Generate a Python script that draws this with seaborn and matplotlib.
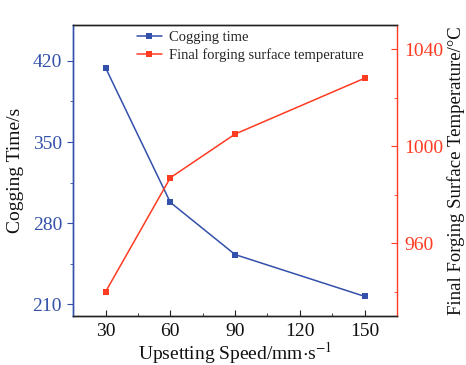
import numpy as np
import pandas as pd
import matplotlib
matplotlib.use('Agg')
import matplotlib.pyplot as plt
import seaborn as sns
from matplotlib.ticker import MultipleLocator

# данные
speed = [30, 60, 90, 150]
cogging_time = [414, 298, 253, 217]
surface_temp = [940, 987, 1005, 1028]

BLUE = '#3350AA'
RED = '#FF3B22'

sns.set_style('ticks')
plt.rcParams['font.family'] = ['Liberation Serif', 'DejaVu Serif']
plt.rcParams['mathtext.fontset'] = 'stix'

df = pd.DataFrame({'speed': speed, 'time': cogging_time, 'temp': surface_temp})

fig = plt.figure(figsize=(4.66, 3.65), dpi=100)
ax = fig.add_axes([0.157, 0.134, 0.695, 0.798])
ax2 = ax.twinx()

sns.lineplot(data=df, x='speed', y='time', ax=ax, color=BLUE, marker='s',
             markersize=5, markeredgewidth=0, linewidth=1.1, label='Cogging time',
             legend=False)
sns.lineplot(data=df, x='speed', y='temp', ax=ax2, color=RED, marker='s',
             markersize=5, markeredgewidth=0, linewidth=1.1,
             label='Final forging surface temperature', legend=False)

ax.set_xlim(15, 165)
ax.set_ylim(200, 451)
ax2.set_ylim(930, 1050)

ax.xaxis.set_major_locator(MultipleLocator(30))
ax.xaxis.set_minor_locator(MultipleLocator(15))
ax.yaxis.set_major_locator(MultipleLocator(70))
ax.yaxis.set_minor_locator(MultipleLocator(35))
ax2.yaxis.set_major_locator(MultipleLocator(40))
ax2.yaxis.set_minor_locator(MultipleLocator(20))

# спайны
ax.spines['left'].set_color(BLUE)
ax2.spines['left'].set_color(BLUE)
ax2.spines['right'].set_color(RED)
ax.spines['right'].set_visible(False)
for a in (ax, ax2):
    a.spines['top'].set_color('#222222')
    a.spines['bottom'].set_color('#222222')
    a.spines['top'].set_visible(True)
    for s in a.spines.values():
        s.set_linewidth(1.0)

ax.tick_params(axis='x', which='both', direction='in', colors='#222222',
               labelsize=14, pad=5)
ax.tick_params(axis='x', which='major', length=4)
ax.tick_params(axis='x', which='minor', length=2.5)
ax.tick_params(axis='y', which='both', direction='out', colors=BLUE,
               labelsize=14, labelcolor=BLUE)
ax.tick_params(axis='y', which='major', length=4.5)
ax.tick_params(axis='y', which='minor', length=2.5)
ax2.tick_params(axis='y', which='both', direction='in', colors=RED,
                labelsize=14, labelcolor=RED, pad=5)
ax2.tick_params(axis='y', which='major', length=4)
ax2.tick_params(axis='y', which='minor', length=2.5)
ax.tick_params(axis='x', labelcolor='#111111')

ax.set_xlabel(r'Upsetting Speed/mm$\cdot$s$^{-1}$', fontsize=14, labelpad=0,
              color='#111111')
ax.set_ylabel('Cogging Time/s', fontsize=14, labelpad=6, color='#111111')
ax2.set_ylabel('Final Forging Surface Temperature/°C', fontsize=13.5,
               labelpad=3, color='#111111')

h1, l1 = ax.get_legend_handles_labels()
h2, l2 = ax2.get_legend_handles_labels()
ax2.legend(h1 + h2, l1 + l2, loc='upper left', bbox_to_anchor=(0.17, 1.01),
           frameon=False, fontsize=10.5, handlelength=1.7, handletextpad=0.5,
           labelspacing=0.3, borderaxespad=0.2)

fig.savefig('out.png', dpi=100)
